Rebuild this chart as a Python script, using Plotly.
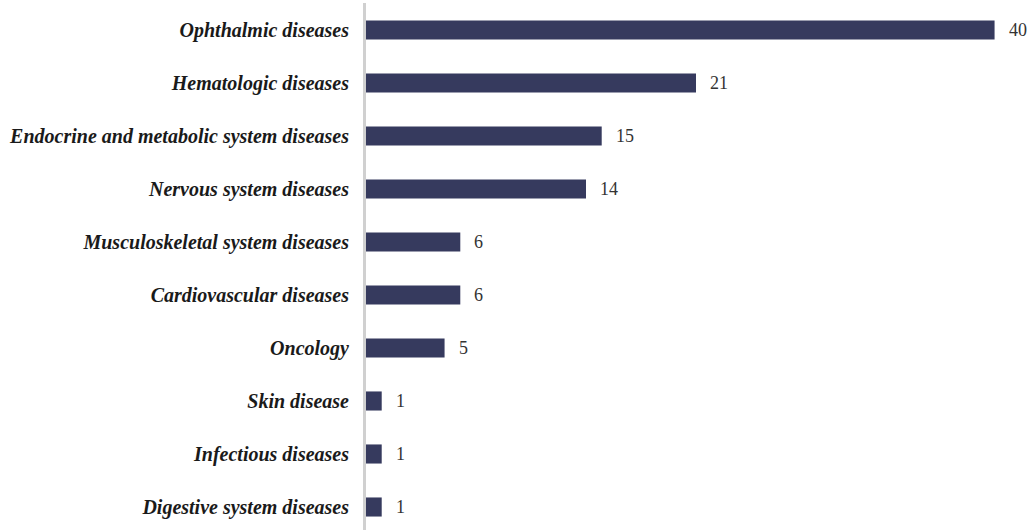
import plotly.graph_objects as go

categories = [
    "Digestive system diseases",
    "Infectious diseases",
    "Skin disease",
    "Oncology",
    "Cardiovascular diseases",
    "Musculoskeletal system diseases",
    "Nervous system diseases",
    "Endocrine and metabolic system diseases",
    "Hematologic diseases",
    "Ophthalmic diseases",
]
values = [1, 1, 1, 5, 6, 6, 14, 15, 21, 40]

bar_color = "#363a5e"
serif = "Liberation Serif, Times New Roman, serif"

fig = go.Figure()
fig.add_trace(go.Bar(
    y=categories,
    x=values,
    orientation="h",
    marker=dict(color=bar_color, line=dict(width=0)),
    width=0.36,
    hoverinfo="x+y",
))

for c, v in zip(categories, values):
    fig.add_annotation(
        x=v, y=c, text=str(v), showarrow=False,
        xanchor="left", yanchor="middle", xshift=12,
        font=dict(family=serif, size=18, color="#333333"),
    )

fig.update_layout(
    width=1032, height=530,
    margin=dict(l=366, r=6, t=3, b=0),
    paper_bgcolor="white", plot_bgcolor="white",
    showlegend=False,
    xaxis=dict(range=[0, 42], visible=False, showgrid=False, zeroline=False, automargin=False),
    yaxis=dict(
        type="category",
        categoryorder="array", categoryarray=categories,
        range=[-0.434, 9.509],
        automargin=False,
        showline=True, linecolor="#d0d0d0", linewidth=3,
        showgrid=False, zeroline=False,
        ticks="", ticklabelstandoff=10,
        tickfont=dict(family=serif, size=20, color="#1a1a1a", weight="bold", style="italic"),
    ),
)

fig.write_html(
    "out.html",
    config={"displayModeBar": False},
    post_script="document.body.style.margin='0';document.body.style.overflow='hidden';",
)
